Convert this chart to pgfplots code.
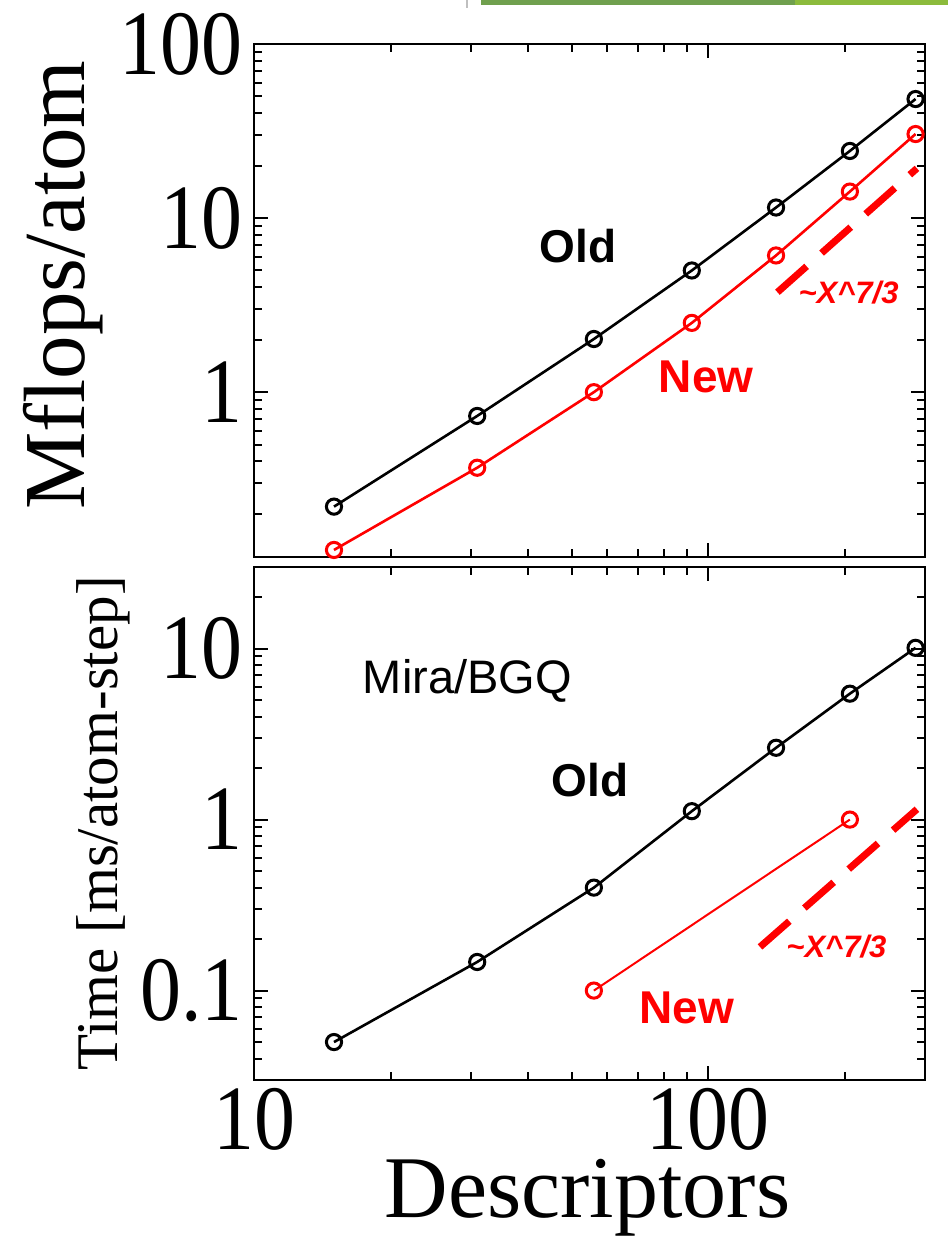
\documentclass[border=0pt]{standalone}
\usepackage{pgfplots}
\pgfplotsset{compat=1.18}
\usepackage{fontspec}
\setmainfont{Liberation Serif}
\newfontfamily\arial{Liberation Sans}
\newfontfamily\tickfont[FakeStretch=0.89]{Liberation Serif}
\definecolor{bargreen}{HTML}{70A04E}
\definecolor{barlight}{HTML}{8CBB3C}

\pgfplotsset{
  panel/.style={
    scale only axis, width=335.5pt, height=256.5pt,
    xmin=10, xmax=300,
    xtick={10,100}, minor xtick={20,30,40,50,60,70,80,90,200,300},
    axis line style={line width=1.2pt},
    every tick/.style={black, line width=1pt},
    major tick length=7pt, minor tick length=4pt,
    tick align=inside, xtick pos=both, ytick pos=both,
    log ticks with fixed point,
    /pgf/number format/assume math mode=true,
    tick label style={font=\tickfont\fontsize{46}{46}\selectfont},
    yticklabel style={inner sep=0pt, xshift=-5.5pt},
    xticklabel style={inner sep=0pt, yshift=-4pt},
    clip=false,
  },
}
\tikzset{
  old/.style={black, line width=1.3pt, mark=o, mark size=3.8pt, mark options={line width=1.5pt, solid}},
  new/.style={red, line width=1.3pt, mark=o, mark size=3.8pt, mark options={line width=1.5pt, solid}},
  slope/.style={red, line width=3.5pt, dash pattern=on 19.5pt off 10pt},
  lbl/.style={font=\arial\bfseries\fontsize{23}{23}\selectfont},
  pow/.style={font=\arial\bfseries\itshape\fontsize{15.5}{15.5}\selectfont, text=red},
}

\begin{document}
\begin{tikzpicture}
\path[use as bounding box] (-127pt,-78pt) rectangle (347pt,540pt);
% slide decoration at the top edge
\fill[bargreen] (113.5pt,537.5pt) rectangle (270.5pt,540pt);
\fill[barlight] (270.5pt,537.5pt) rectangle (347pt,540pt);
\draw[black!25, line width=0.6pt] (106.5pt,536pt) -- (106.5pt,540pt);

% top: Mflops/atom
\begin{loglogaxis}[panel, at={(0,261.5pt)},
  ymin=0.113, ymax=100,
  ytick={1,10,100},
  minor ytick={0.2,0.3,0.4,0.5,0.6,0.7,0.8,0.9,2,3,4,5,6,7,8,9,20,30,40,50,60,70,80,90},
  xticklabels={},
  ylabel={Mflops/atom},
  ylabel style={font=\fontsize{43.5}{43.5}\selectfont, at={(axis description cs:-0.252,0.53)}, anchor=base},
]
\addplot[old] coordinates {(15,0.22) (31,0.73) (56,2.02) (92,5.0) (141,11.5) (205,24.3) (286,48.3)};
\addplot[new] coordinates {(15,0.124) (31,0.368) (56,1.0) (92,2.5) (141,6.1) (205,14.2) (286,30.4)};
\addplot[slope] coordinates {(142,3.75) (288,19.3)};
\node[lbl] at (rel axis cs:0.483,0.607) {Old};
\node[lbl, text=red] at (rel axis cs:0.674,0.352) {New};
\node[pow] at (rel axis cs:0.886,0.516) {\textasciitilde X\textasciicircum 7/3};
\end{loglogaxis}

% bottom: time per atom-step
\begin{loglogaxis}[panel,
  ymin=0.03, ymax=30,
  ytick={0.1,1,10},
  minor ytick={0.04,0.05,0.06,0.07,0.08,0.09,0.2,0.3,0.4,0.5,0.6,0.7,0.8,0.9,2,3,4,5,6,7,8,9,20,30},
  ylabel={Time [ms/atom-step]},
  ylabel style={font=\fontsize{29.5}{29.5}\selectfont, at={(axis description cs:-0.204,0.5)}, anchor=base},
  xlabel={Descriptors},
  xlabel style={font=\fontsize{44}{44}\selectfont, at={(axis description cs:0.497,0)}, anchor=base, yshift=-68.5pt},
]
\addplot[old] coordinates {(15,0.05) (31,0.147) (56,0.40) (92,1.12) (141,2.63) (205,5.45) (286,10.1)};
\addplot[new, line width=1pt] coordinates {(56,0.1) (205,1.0)};
\addplot[slope] coordinates {(130,0.18) (288,1.15)};
\node[font=\arial\fontsize{23.5}{23.5}\selectfont] at (rel axis cs:0.318,0.777) {Mira/BGQ};
\node[lbl] at (rel axis cs:0.501,0.585) {Old};
\node[lbl, text=red] at (rel axis cs:0.645,0.140) {New};
\node[pow] at (rel axis cs:0.868,0.260) {\textasciitilde X\textasciicircum 7/3};
\end{loglogaxis}
\end{tikzpicture}
\end{document}
